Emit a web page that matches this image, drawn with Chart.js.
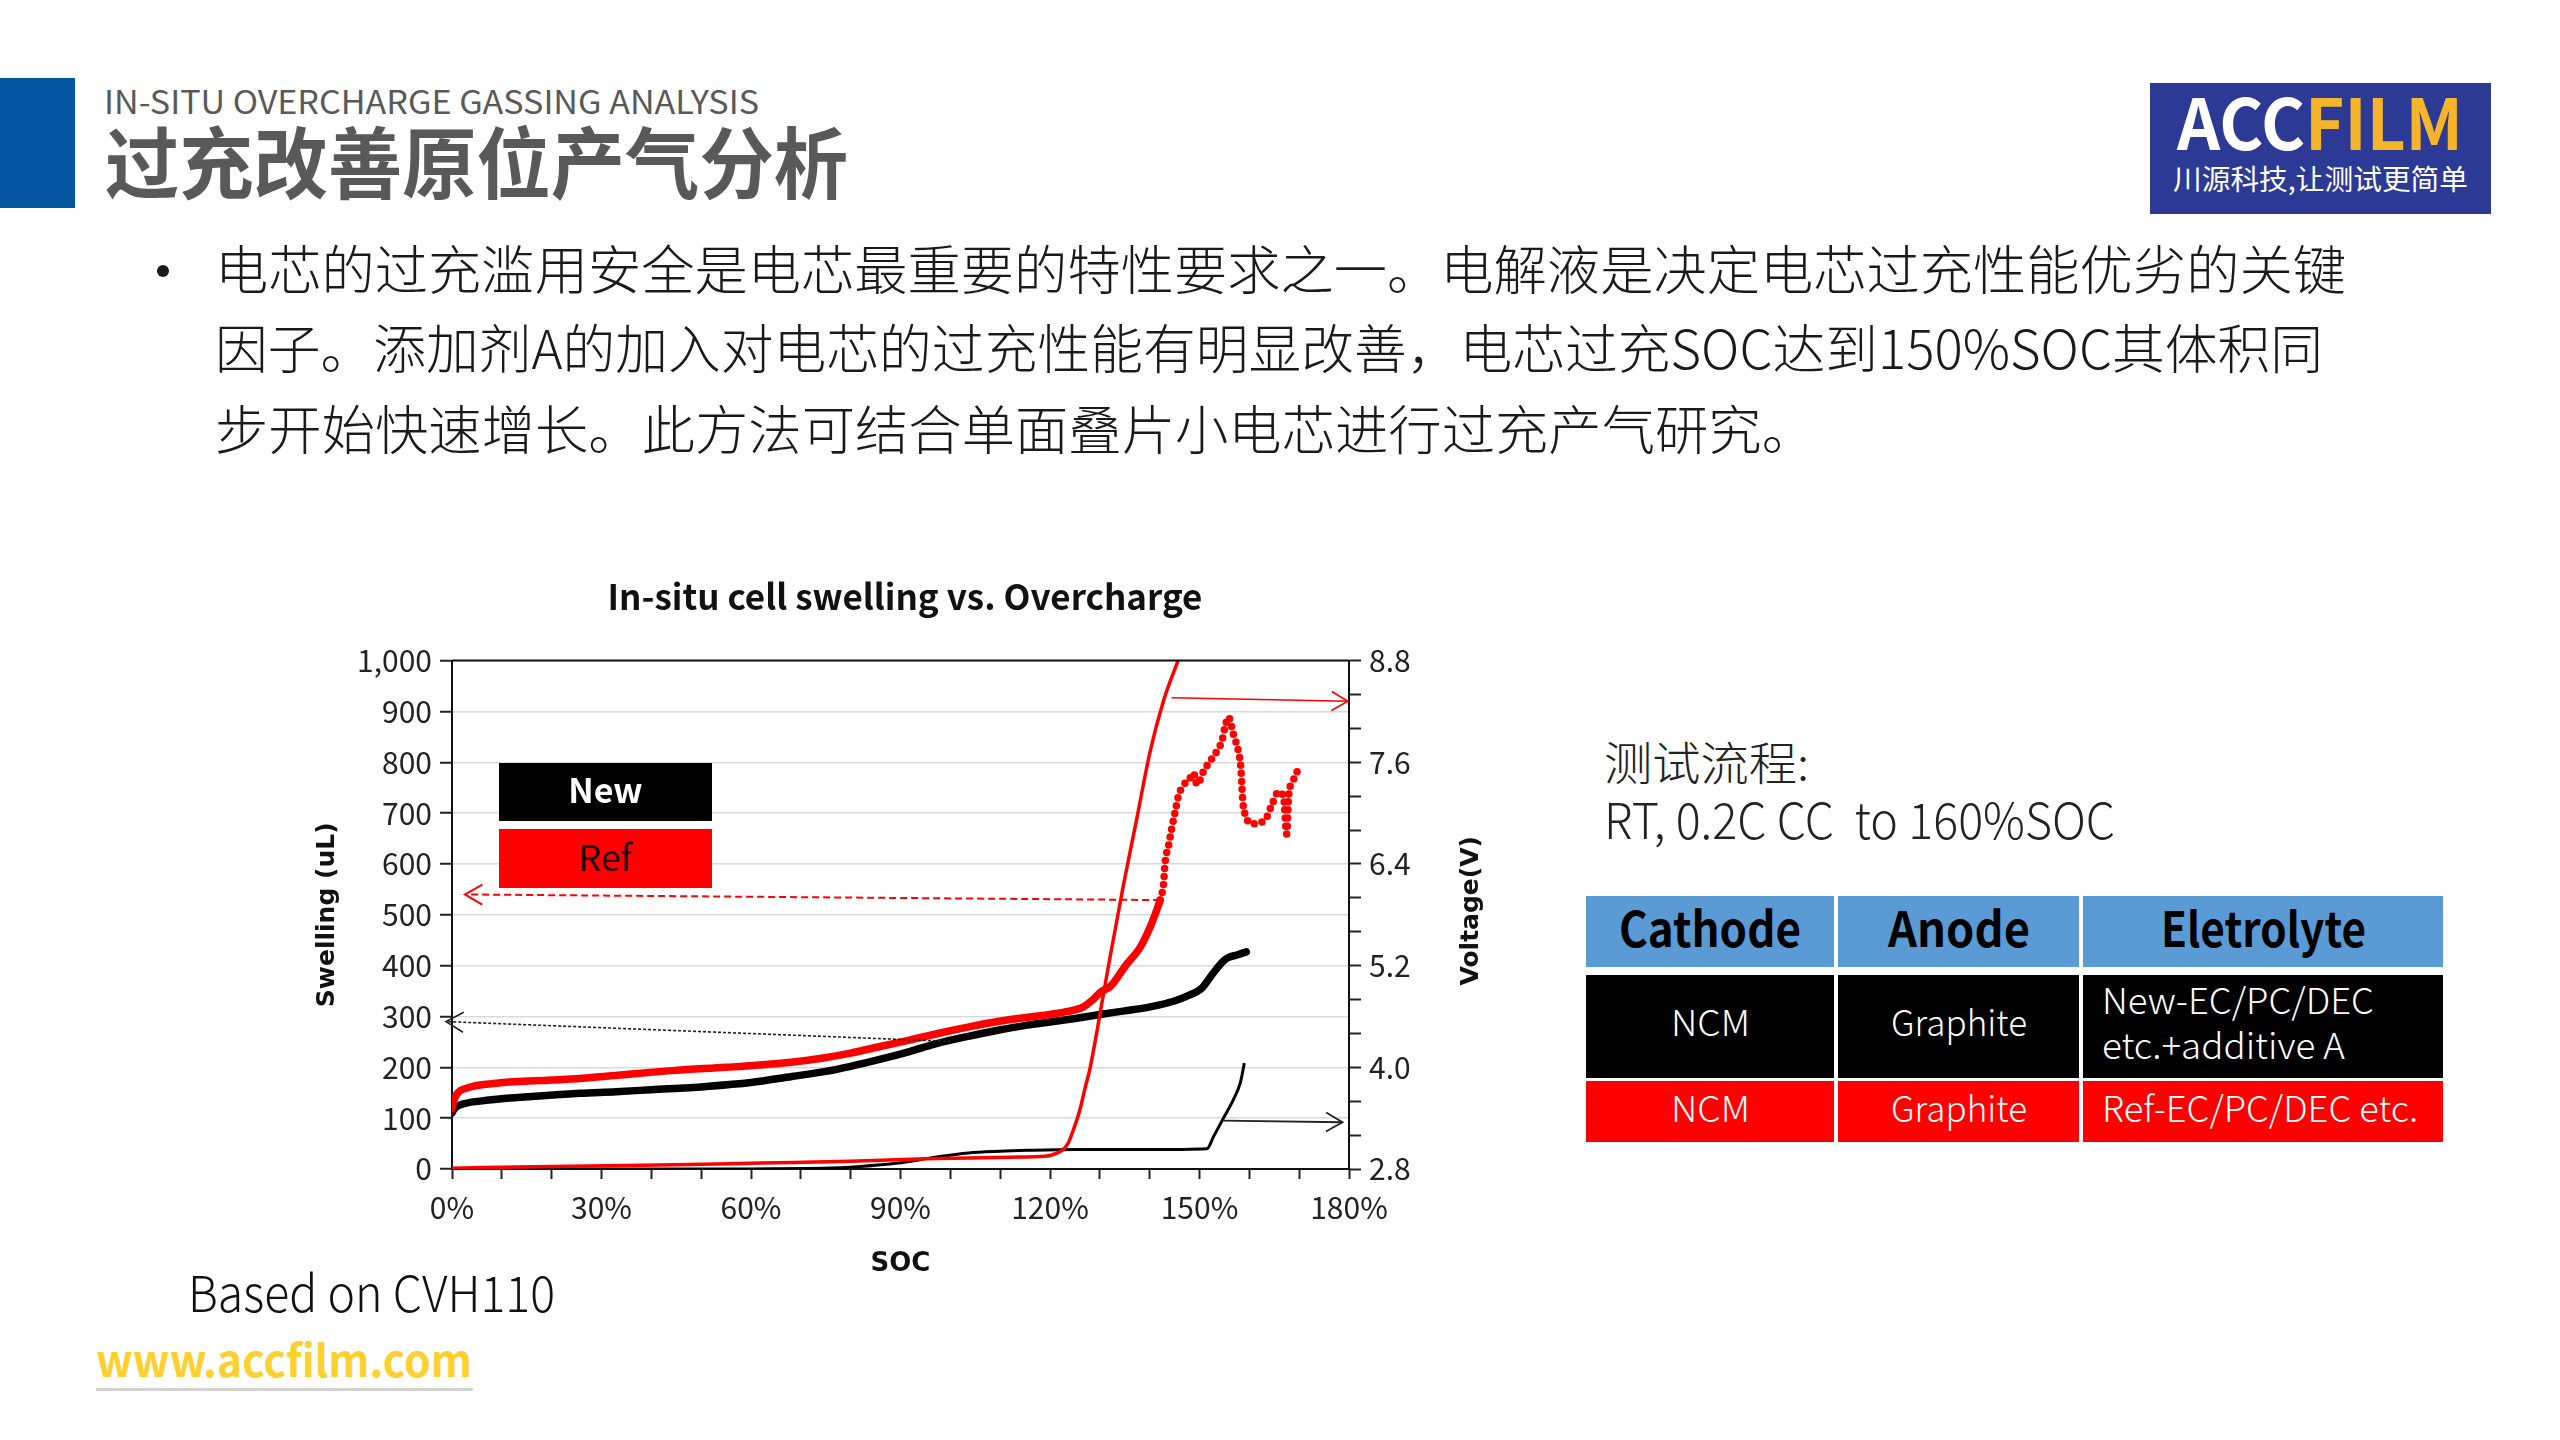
<!DOCTYPE html>
<html>
<head>
<meta charset="utf-8">
<script src="https://cdn.jsdelivr.net/npm/chart.js@4.4.1/dist/chart.umd.min.js"></script>
<style>
html,body{margin:0;padding:0;background:#fff;}
body{width:2560px;height:1440px;position:relative;overflow:hidden;font-family:"Noto Sans CJK SC","Noto Sans",sans-serif;}
.t{position:absolute;white-space:pre;transform-origin:left top;}
.cell{position:absolute;box-sizing:border-box;}
#chartWrap{position:absolute;left:290px;top:560px;width:1230px;height:740px;}
</style>
</head>
<body>
<div id="bar" style="position:absolute;left:0;top:78px;width:75px;height:130px;background:#03569f;"></div>
<div id="logo" style="position:absolute;left:2150px;top:83px;width:341px;height:131px;background:#2c3a95;"></div>

<div id="chartWrap"><canvas id="c" width="1230" height="740"></canvas></div>

<div id="legNew" class="cell" style="left:499px;top:763px;width:213px;height:58px;background:#000;"></div>
<div id="legRef" class="cell" style="left:499px;top:829px;width:213px;height:59px;background:#ff0000;"></div>

<div id="bullet" style="position:absolute;left:157px;top:265px;width:12px;height:12px;border-radius:50%;background:#1a1a1a;"></div>
<div id="underline" style="position:absolute;left:96px;top:1388px;width:377px;height:3px;background:#d2d2d2;"></div>

<script>
// ---------------- data ----------------
const xLabelValues = [0, 30, 60, 90, 120, 150, 180];
const voltLabelValues = [2.8, 4.0, 5.2, 6.4, 7.6, 8.8];

const newSwellSoc = [0, 0.5, 2.3, 6, 15.3, 25.7, 32.9, 40, 50.6, 60, 68.2, 75, 80, 86, 91.8, 97, 103.6, 109, 115.4, 120, 125, 130.7, 135, 140.1, 144.8, 147.5, 150.5, 152.8, 154.8, 155.8, 157.5, 159.4];
const newSwellVal = [110, 119, 128, 134, 142, 149, 152, 156, 162, 170, 182, 192, 202, 216, 231, 246, 261, 272, 283, 289, 296, 305, 311, 319, 330, 340, 356, 386, 409, 416, 421, 427];

const refSwellSoc = [0, 0.4, 1.1, 2.9, 9.4, 20, 27, 35, 44.7, 55, 62.4, 68, 74.2, 80, 85.9, 92, 97.7, 104, 109.5, 116, 120, 123.6, 126.7, 128.5, 130.3, 132.1, 135.4, 138.1, 140.1, 141.4, 142.1, 142.8, 143.1, 143.8, 144.4, 145.1, 145.8, 146.8, 148.1, 148.8, 149.5, 150.8, 152.1, 153.5, 154.5, 155.1, 155.8, 156.8, 157.8, 158.3, 158.5, 158.7, 159.2, 160.5, 162.2, 163.5, 164.5, 165.9, 166.9, 167.5, 167.9, 168.7, 169.6];
const refSwellVal = [118, 135, 149, 159, 169, 175, 179, 186, 194, 200, 205, 210, 218, 228, 241, 254, 267, 280, 290, 299, 304, 310, 319, 332, 349, 359, 403, 436, 476, 509, 529, 562, 603, 636, 669, 702, 735, 755, 769, 779, 756, 782, 802, 822, 842, 869, 889, 855, 822, 789, 755, 722, 696, 679, 681, 692, 716, 742, 729, 659, 735, 762, 782];

const refVoltSoc = [0, 20, 44.7, 62, 80, 95, 103.6, 112, 118.9, 120, 121.5, 122.4, 123.6, 124.8, 126.0, 127.1, 128.0, 129.5, 130.0, 131.8, 134.7, 137.4, 140.1, 142.8, 145.7];
const refVoltVal = [2.81, 2.83, 2.85, 2.87, 2.89, 2.92, 2.93, 2.94, 2.95, 2.96, 2.99, 3.02, 3.10, 3.28, 3.50, 3.77, 3.98, 4.45, 4.62, 5.22, 6.14, 6.93, 7.73, 8.33, 8.8];

const newVoltSoc = [0, 40, 74.2, 82, 89.5, 96, 103.6, 110, 115.4, 125, 140, 151.5, 152.8, 154.8, 156.8, 158.2, 159.0];
const newVoltVal = [2.80, 2.80, 2.81, 2.83, 2.87, 2.93, 2.99, 3.01, 3.02, 3.03, 3.03, 3.04, 3.18, 3.40, 3.62, 3.82, 4.05];

// annotation arrows (x in SOC %, y in swelling units)
const arrowFromSoc = [144.4, 142.1, 100.1, 154.8];
const arrowFromVal = [927, 529, 251, 95];
const arrowToSoc   = [179.8, 2.6, -1.2, 178.7];
const arrowToVal   = [920, 540, 290, 92];

// ---------------- styles ----------------
const arrowStyles = [
  {color:'#ff0000', width:1.6, dash:[], head:19},
  {color:'#ff0000', width:2, dash:[7,4], head:20},
  {color:'#222222', width:1.6, dash:[3,2], head:20},
  {color:'#222222', width:1.8, dash:[], head:19}
];
const FONT = '"Noto Sans CJK SC", "Noto Sans", sans-serif';
const BOLDFONT = '"DejaVu Sans", Verdana, sans-serif';

function pts(xs, ys){ return xs.map((v,i)=>({x:v, y:ys[i]})); }

const arrowsPlugin = {
  id:'arrows',
  afterDatasetsDraw(chart){
    const {ctx, chartArea, scales:{x, y}} = chart;
    ctx.save();
    ctx.strokeStyle = '#111'; ctx.lineWidth = 2;
    ctx.beginPath(); ctx.moveTo(chartArea.left, chartArea.top); ctx.lineTo(chartArea.right, chartArea.top); ctx.stroke();
    for (let i=0;i<arrowFromSoc.length;i++){
      const st = arrowStyles[i];
      const x0 = x.getPixelForValue(arrowFromSoc[i]), y0 = y.getPixelForValue(arrowFromVal[i]);
      const x1 = x.getPixelForValue(arrowToSoc[i]), y1 = y.getPixelForValue(arrowToVal[i]);
      ctx.strokeStyle = st.color; ctx.lineWidth = st.width; ctx.setLineDash(st.dash);
      ctx.beginPath(); ctx.moveTo(x0,y0); ctx.lineTo(x1,y1); ctx.stroke();
      ctx.setLineDash([]);
      const ang = Math.atan2(y1-y0, x1-x0), a = Math.PI/6, L = st.head;
      ctx.beginPath();
      ctx.moveTo(x1 - L*Math.cos(ang-a), y1 - L*Math.sin(ang-a));
      ctx.lineTo(x1, y1);
      ctx.lineTo(x1 - L*Math.cos(ang+a), y1 - L*Math.sin(ang+a));
      ctx.stroke();
    }
    ctx.restore();
  },
  afterDraw(chart){
    // right axis title, reading bottom-to-top like the reference
    const {ctx, chartArea, scales:{y1}} = chart;
    ctx.save();
    ctx.font = 'bold 25px ' + BOLDFONT;
    ctx.fillStyle = '#111';
    ctx.textAlign = 'center'; ctx.textBaseline = 'middle';
    ctx.translate(y1.right - 49, (chartArea.top + chartArea.bottom)/2 - 4);
    ctx.rotate(-Math.PI/2);
    ctx.fillText('Voltage(V)', 0, 0);
    ctx.restore();
  }
};

const chart = new Chart(document.getElementById('c'), {
  type:'line',
  data:{datasets:[
    {label:'Ref voltage', data:pts(refVoltSoc, refVoltVal), yAxisID:'y1', borderColor:'#ff0000', borderWidth:3.5, cubicInterpolationMode:'monotone', pointRadius:0},
    {label:'New voltage', data:pts(newVoltSoc, newVoltVal), yAxisID:'y1', borderColor:'#000000', borderWidth:3, cubicInterpolationMode:'monotone', pointRadius:0},
    {label:'Ref swelling', data:pts(refSwellSoc, refSwellVal), yAxisID:'y', borderColor:'#ff0000', borderWidth:7.5, borderCapStyle:'round', borderJoinStyle:'round', cubicInterpolationMode:'monotone', pointRadius:0,
      segment:{borderDash: c => c.p0.parsed.x >= 142 ? [0, 8] : undefined}},
    {label:'New swelling', data:pts(newSwellSoc, newSwellVal), yAxisID:'y', borderColor:'#000000', borderWidth:7.5, borderCapStyle:'round', cubicInterpolationMode:'monotone', pointRadius:0}
  ]},
  options:{
    responsive:false, animation:false, devicePixelRatio:1,
    layout:{padding:0},
    plugins:{
      legend:{display:false}, tooltip:{enabled:false},
      title:{display:true, text:'In-situ cell swelling vs. Overcharge', color:'#111',
        font:{family:FONT, size:35, weight:'bold'}, padding:{top:16, bottom:42.6}}
    },
    scales:{
      x:{type:'linear', min:0, max:180,
        ticks:{stepSize:10, autoSkip:false, maxRotation:0, color:'#222', padding:11,
          font:{family:FONT, size:30},
          callback:v => xLabelValues.includes(v) ? v + '%' : ''},
        grid:{drawOnChartArea:false, tickLength:10, tickColor:'#222', tickWidth:2},
        border:{color:'#111', width:2},
        title:{display:true, text:'SOC', color:'#111', font:{family:BOLDFONT, size:26, weight:'bold'}, padding:{top:0, bottom:20}},
        afterFit:s => { s.height = 131; }
      },
      y:{position:'left', min:0, max:1000,
        ticks:{stepSize:100, color:'#222', padding:8, font:{family:FONT, size:30},
          callback:v => v.toLocaleString('en-US')},
        grid:{color:'#d9d9d9', lineWidth:1.5, tickLength:12, tickColor:'#222', tickWidth:2},
        border:{color:'#111', width:2},
        title:{display:true, text:'Swelling (uL)', color:'#111', font:{family:BOLDFONT, size:25, weight:'bold'}, padding:{top:22, bottom:0}},
        afterFit:s => { s.width = 162; }
      },
      y1:{position:'right', min:2.8, max:8.8,
        ticks:{stepSize:0.4, autoSkip:false, color:'#222', padding:8, font:{family:FONT, size:30},
          callback:v => voltLabelValues.some(t => Math.abs(t - v) < 1e-6) ? v.toFixed(1) : ''},
        grid:{drawOnChartArea:false, tickLength:12, tickColor:'#222', tickWidth:2},
        border:{color:'#111', width:2},
        title:{display:false},
        afterFit:s => { s.width = 171; }
      }
    }
  },
  plugins:[arrowsPlugin]
});

// ---------------- HTML texts ----------------
function addText(txt, left, cy, size, opts){
  opts = opts || {};
  const el = document.createElement('div');
  el.className = 't';
  el.innerHTML = txt;
  el.style.fontSize = size + 'px';
  el.style.lineHeight = size + 'px';
  el.style.fontWeight = opts.weight || 400;
  el.style.color = opts.color || '#1a1a1a';
  if (opts.family) el.style.fontFamily = opts.family;
  const f = opts.f == null ? 0.56 : opts.f;
  el.style.top = (cy - f*size) + 'px';
  document.body.appendChild(el);
  const w = el.getBoundingClientRect().width;
  let sx = 1;
  if (opts.fit) { sx = opts.fit / w; el.style.transform = 'scaleX(' + sx + ')'; }
  const vw = w * sx;
  el.style.left = (opts.center ? left - vw/2 : left) + 'px';
  return el;
}

addText('IN-SITU OVERCHARGE GASSING ANALYSIS', 104, 103.5, 32, {color:'#595959', f:0.6, fit:655, weight:400});
addText('过充改善原位产气分析', 105, 164, 78, {color:'#595959', weight:700, fit:743});
addText('<span style="color:#fff">ACC</span><span style="color:#f7b52c">FILM</span>', 2177, 126.7, 70, {weight:700, f:0.6, fit:286});
addText('川源科技,让测试更简单', 2173, 180, 28, {color:'#fff', fit:295});

addText('电芯的过充滥用安全是电芯最重要的特性要求之一。电解液是决定电芯过充性能优劣的关键', 215, 271, 53, {fit:2131, weight:300});
addText('因子。添加剂A的加入对电芯的过充性能有明显改善，电芯过充SOC达到150%SOC其体积同', 215, 350, 53, {fit:2108, weight:300});
addText('步开始快速增长。此方法可结合单面叠片小电芯进行过充产气研究。', 215, 431, 53, {fit:1600, weight:300});

addText('测试流程:', 1604, 762.5, 46, {color:'#222', fit:205, weight:300});
addText('RT, 0.2C CC  to 160%SOC', 1604, 821.5, 50, {color:'#222', f:0.6, fit:511, weight:300});

addText('Based on CVH110', 188, 1295, 50, {color:'#111', f:0.6, fit:367, weight:300});
addText('www.accfilm.com', 96, 1366, 44, {color:'#fcd02f', weight:700, f:0.69, fit:376});

// legend boxes text
addText('New', 605.5, 792, 34, {color:'#fff', weight:700, f:0.6, center:true});
addText('Ref', 605.5, 858.5, 36, {color:'#1a0000', f:0.6, center:true});

// table
const tableCols = [[1586,1834],[1838,2079],[2083,2443]];
const tableRows = [[896,967],[975,1078],[1081,1142]];
const rowBg = ['#5b9bd5', '#000000', '#ff0000'];
tableRows.forEach((r, ri) => tableCols.forEach((c) => {
  const d = document.createElement('div');
  d.className = 'cell';
  d.style.left = c[0] + 'px'; d.style.top = r[0] + 'px';
  d.style.width = (c[1]-c[0]) + 'px'; d.style.height = (r[1]-r[0]) + 'px';
  d.style.background = rowBg[ri];
  document.body.appendChild(d);
}));
const cx = c => (c[0]+c[1])/2;
addText('Cathode', cx(tableCols[0]), 931.5, 48, {color:'#000', weight:700, f:0.62, center:true, fit:182});
addText('Anode', cx(tableCols[1]), 931.5, 48, {color:'#000', weight:700, f:0.62, center:true, fit:142});
addText('Eletrolyte', cx(tableCols[2]), 931.5, 48, {color:'#000', weight:700, f:0.62, center:true, fit:205});
addText('NCM', cx(tableCols[0]), 1024, 36, {color:'#fff', f:0.6, center:true, weight:300, fit:79});
addText('Graphite', cx(tableCols[1]), 1024, 36, {color:'#fff', f:0.62, center:true, weight:300, fit:136});
addText('New-EC/PC/DEC', 2102, 1002, 36, {color:'#fff', f:0.6, weight:300, fit:272});
addText('etc.+additive A', 2102, 1047, 36, {color:'#fff', f:0.62, weight:300, fit:243});
addText('NCM', cx(tableCols[0]), 1110, 36, {color:'#fff', f:0.6, center:true, weight:300, fit:79});
addText('Graphite', cx(tableCols[1]), 1110, 36, {color:'#fff', f:0.62, center:true, weight:300, fit:136});
addText('Ref-EC/PC/DEC etc.', 2102, 1110, 36, {color:'#fff', f:0.6, weight:300, fit:316});
</script>
</body>
</html>
